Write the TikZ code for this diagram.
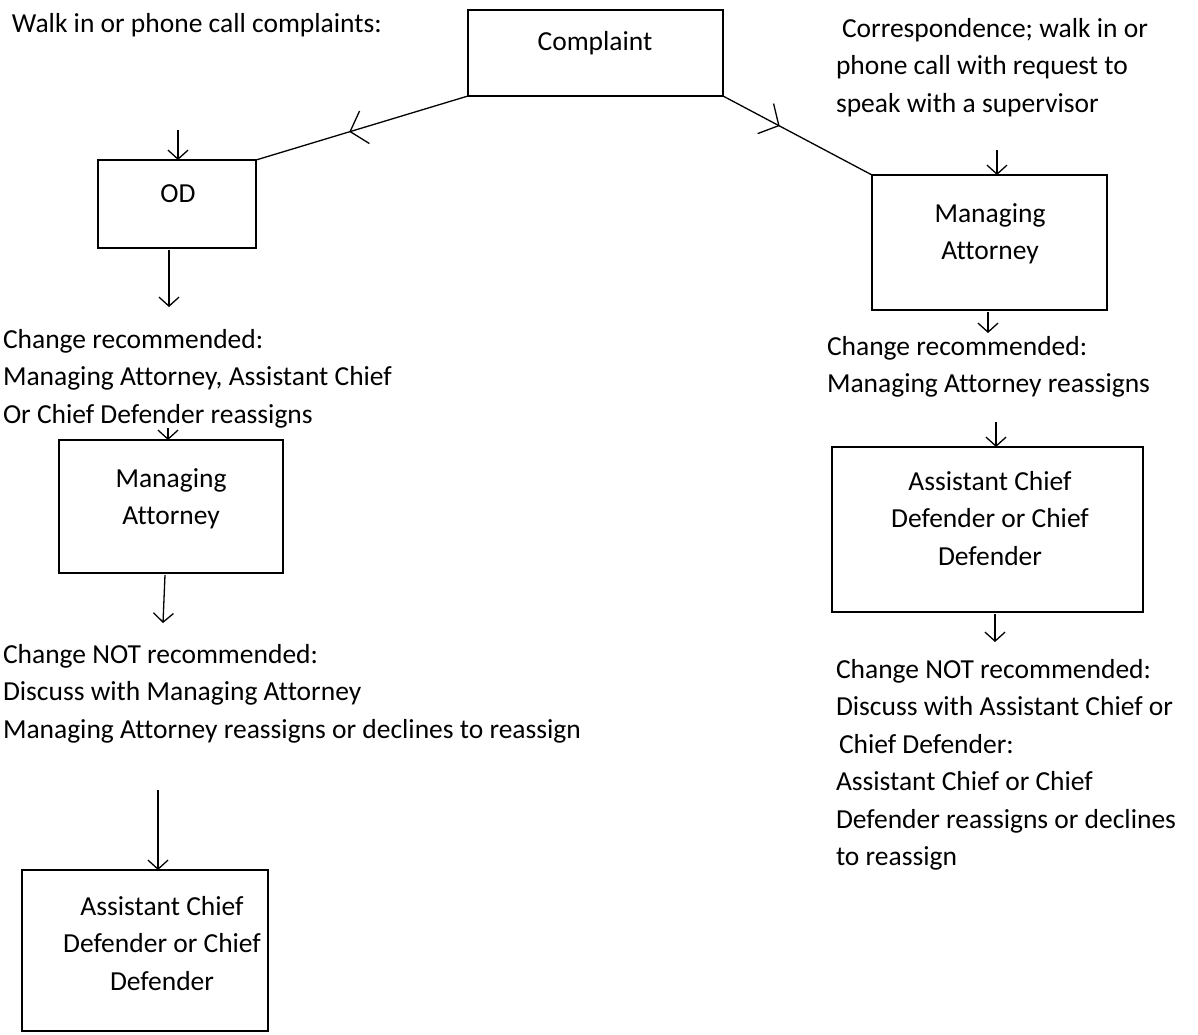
\documentclass[tikz,border=0pt]{standalone}
\usepackage{fontspec}
\setmainfont[Ligatures=NoCommon]{Carlito}
\usetikzlibrary{arrows.meta,decorations.markings}
\newcommand{\txtl}[1]{\begin{tabular}[t]{@{}l@{}}#1\end{tabular}}
\newcommand{\txtc}[1]{\begin{tabular}[t]{@{}c@{}}#1\end{tabular}}
\begin{document}
\begin{tikzpicture}[x=1pt,y=-1pt,
  every node/.style={font=\fontsize{27.5}{37.5}\selectfont, inner sep=0pt, outer sep=0pt},
  box/.style={draw, line width=1.3pt},
  arr/.style={line width=1.3pt, -{Straight Barb[length=9pt,width=20pt,line width=1.3pt]}},
  link/.style={line width=1.3pt},
  midarr/.style={postaction={decorate},
    decoration={markings, mark=at position #1 with {\arrow[line width=1.3pt]{Straight Barb[length=15pt,width=34pt]}}}}
]
\useasboundingbox[fill=white] (0,0) rectangle (1198,1034);

% boxes
\node[box, minimum width=255pt, minimum height=86pt] (complaint) at (595.5,53) {};
\node[box, minimum width=158pt, minimum height=88pt] (od) at (177,204) {};
\node[box, minimum width=224pt, minimum height=133pt] (maL) at (171,506.5) {};
\node[box, minimum width=246pt, minimum height=161pt] (acdL) at (145,950.5) {};
\node[box, minimum width=235pt, minimum height=135pt] (maR) at (989.5,242.5) {};
\node[box, minimum width=311pt, minimum height=165pt] (acdR) at (987.5,529.5) {};

% box texts
\node[anchor=base] (complaintT) at (595,50) {Complaint};
\node[anchor=base] (odT) at (178,202) {OD};
\node[anchor=base] (maLT) at (171,487) {\txtc{Managing\\Attorney}};
\node[anchor=base] (acdLT) at (162,915) {\txtc{Assistant Chief\\Defender or Chief\\Defender}};
\node[anchor=base] (maRT) at (990,222) {\txtc{Managing\\Attorney}};
\node[anchor=base] (acdRT) at (990,490) {\txtc{Assistant Chief\\Defender or Chief\\Defender}};

% free texts
\node[anchor=base west] (walk) at (12,32) {Walk in or phone call complaints:};
\node[anchor=base west] (corr) at (836,37) {\txtl{\hspace{6pt}Correspondence; walk in or\\phone call with request to\\speak with a supervisor}};
\node[anchor=base west] (chgL) at (3,348) {\txtl{Change recommended:\\Managing Attorney, Assistant Chief\\Or Chief Defender reassigns}};
\node[anchor=base west] (notL) at (3,663) {\txtl{Change NOT recommended:\\Discuss with Managing Attorney\\Managing Attorney reassigns or declines to reassign}};
\node[anchor=base west] (chgR) at (827,355) {\txtl{Change recommended:\\Managing Attorney reassigns}};
\node[anchor=base west] (notR) at (836,678) {\txtl{Change NOT recommended:\\Discuss with Assistant Chief or\\\hspace{3pt}Chief Defender:\\Assistant Chief or Chief\\Defender reassigns or declines\\to reassign}};

% diagonal links from Complaint
\draw[link, midarr=0.56] (complaint.south west) -- (od.north east);
\draw[link, midarr=0.38] (complaint.south east) -- (maR.north west);

% arrow endpoints
\coordinate (odIn) at (178,130);
\coordinate (odOut) at (169,250);
\coordinate (chgLTop) at (169,307);
\coordinate (maLIn) at (168,428);
\coordinate (maLOut) at (165,575);
\coordinate (notLTop) at (163,623);
\coordinate (acdLIn) at (158,790);
\coordinate (maRIn) at (997,150);
\coordinate (maROut) at (988,312);
\coordinate (chgRTop) at (988,333);
\coordinate (acdRIn) at (996,422);
\coordinate (acdROut) at (995,614);
\coordinate (notRTop) at (995,642);

% vertical arrows
\draw[arr] (odIn) -- (odIn |- od.north);
\draw[arr] (odOut) -- (chgLTop);
\draw[arr] (maLIn) -- (maLIn |- maL.north);
\draw[arr] (maLOut) -- (notLTop);
\draw[arr] (acdLIn) -- (acdLIn |- acdL.north);
\draw[arr] (maRIn) -- (maRIn |- maR.north);
\draw[arr] (maROut) -- (chgRTop);
\draw[arr] (acdRIn) -- (acdRIn |- acdR.north);
\draw[arr] (acdROut) -- (notRTop);
\end{tikzpicture}
\end{document}
